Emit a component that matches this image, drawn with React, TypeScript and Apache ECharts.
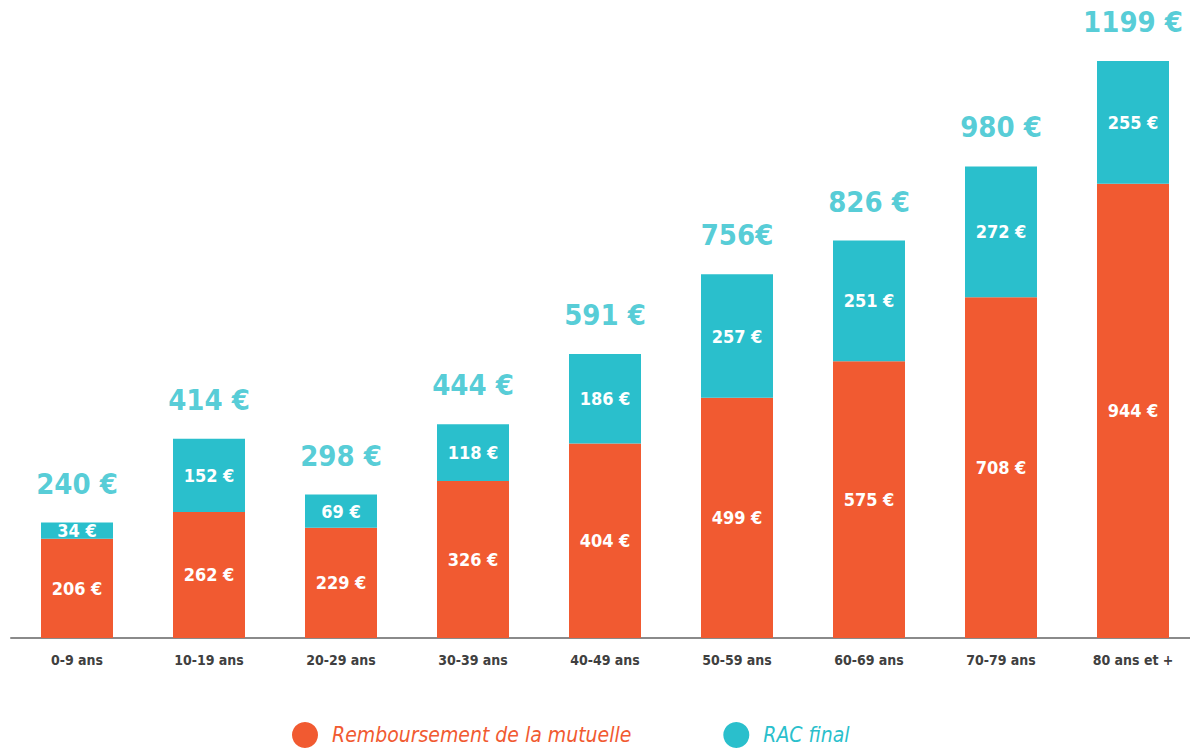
import React, { useEffect, useRef } from "react";
import * as echarts from "echarts";

const categories = ["0-9 ans", "10-19 ans", "20-29 ans", "30-39 ans", "40-49 ans", "50-59 ans", "60-69 ans", "70-79 ans", "80 ans et +"];
const remboursement = [206, 262, 229, 326, 404, 499, 575, 708, 944];
const racFinal = [34, 152, 69, 118, 186, 257, 251, 272, 255];
const totals = [240, 414, 298, 444, 591, 756, 826, 980, 1199];
const totalLabels = ["240 €", "414 €", "298 €", "444 €", "591 €", "756€", "826 €", "980 €", "1199 €"];

const ORANGE = "#F15A31";
const TEAL = "#2ABFCC";
const FONT = "'DejaVu Sans Condensed', 'DejaVu Sans', sans-serif";

export default function App() {
  const ref = useRef<HTMLDivElement>(null);
  useEffect(() => {
    if (!ref.current) return;
    const chart = echarts.init(ref.current, undefined, { renderer: "svg" });
    const inner = {
      show: true,
      position: "inside" as const,
      color: "#fff",
      fontFamily: FONT,
      fontWeight: "bold" as const,
      fontSize: 18,
      formatter: (p: any) => `${p.value} €`,
    };
    chart.setOption({
      animation: false,
      backgroundColor: "#fff",
      grid: { left: 11, width: 1188, top: 61, bottom: 110, containLabel: false },
      legend: {
        bottom: -5,
        left: 287,
        icon: "circle",
        itemWidth: 26,
        itemHeight: 26,
        itemGap: 92,
        textStyle: { fontFamily: FONT, fontStyle: "italic", fontSize: 21, padding: [0, 0, 0, 9] },
        data: [
          { name: "Remboursement de la mutuelle", textStyle: { color: ORANGE } },
          { name: "RAC final", textStyle: { color: TEAL } },
        ],
      },
      xAxis: {
        type: "category",
        data: categories,
        axisLine: { lineStyle: { color: "#8a8a8a", width: 2 } },
        axisTick: { show: false },
        axisLabel: { color: "#404040", fontFamily: FONT, fontWeight: "bold", fontSize: 14, margin: 15 },
      },
      yAxis: { type: "value", min: 0, max: 1199, show: false, splitLine: { show: false } },
      series: [
        {
          name: "Remboursement de la mutuelle",
          type: "bar",
          stack: "a",
          data: remboursement,
          barWidth: 72,
          itemStyle: { color: ORANGE },
          label: inner,
        },
        {
          name: "RAC final",
          type: "bar",
          stack: "a",
          data: racFinal,
          barWidth: 72,
          itemStyle: { color: TEAL },
          label: inner,
        },
        {
          name: "total",
          type: "scatter",
          data: totals,
          symbolSize: 1,
          itemStyle: { color: "rgba(0,0,0,0)" },
          label: {
            show: true,
            position: "top",
            distance: 24,
            color: TEAL,
            fontFamily: FONT,
            fontWeight: "bold",
            fontSize: 29,
            formatter: (p: any) => totalLabels[p.dataIndex],
          },
        },
      ],
    });
    return () => chart.dispose();
  }, []);
  return (
    <div style={{ position: "fixed", left: 0, top: 0, width: 1190, height: 748, overflow: "hidden", background: "#fff" }}>
      <div ref={ref} style={{ position: "absolute", left: 0, top: 0, width: 1200, height: 748 }} />
    </div>
  );
}
